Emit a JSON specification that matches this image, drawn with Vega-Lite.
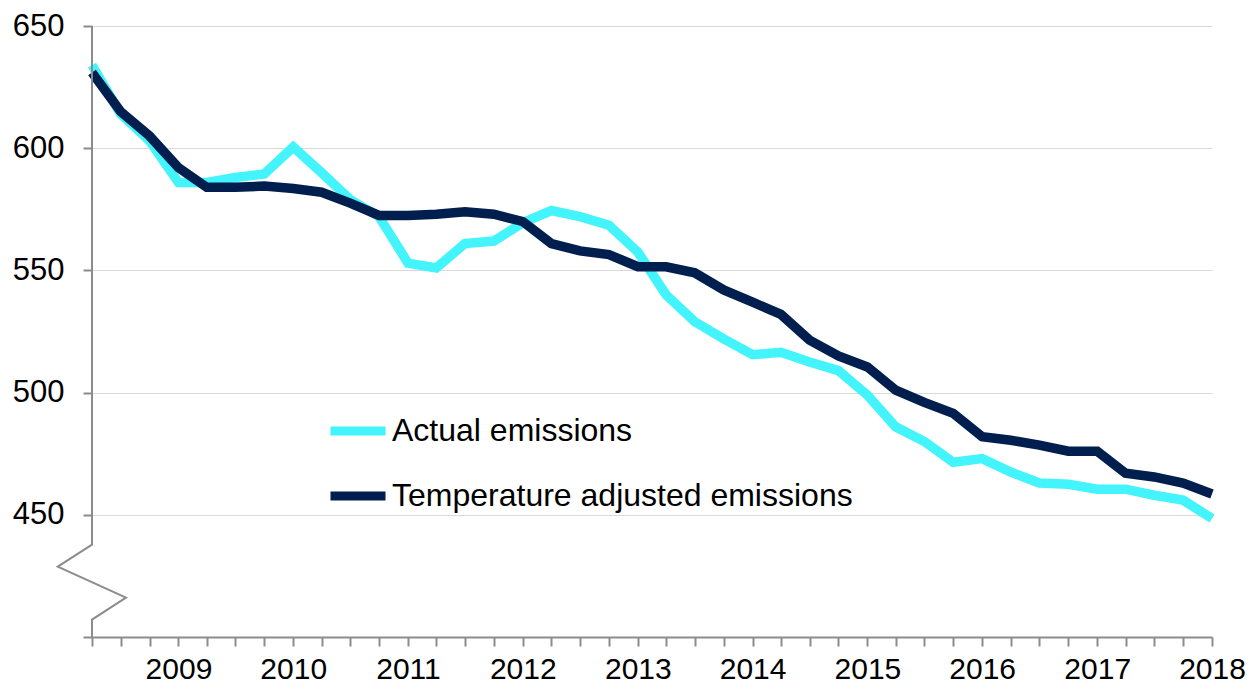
{
  "$schema": "https://vega.github.io/schema/vega-lite/v6.json",
  "width": 1120,
  "height": 611,
  "autosize": {"type": "none"},
  "padding": {"left": 92, "top": 26, "right": 47, "bottom": 51},
  "background": "white",
  "config": {
    "view": {"stroke": null},
    "font": "Liberation Sans",
    "axis": {"labelFont": "Liberation Sans", "labelColor": "#000000", "labelFontSize": 30, "domainColor": "#8c8c8c", "tickColor": "#8c8c8c", "domainWidth": 2, "tickWidth": 2, "tickSize": 9, "title": null},
    "legend": {"labelFont": "Liberation Sans"}
  },
  "datasets": {
    "emissions": [
      {"quarter": "2008-04-01", "Actual emissions": 634, "Temperature adjusted emissions": 631},
      {"quarter": "2008-07-01", "Actual emissions": 614, "Temperature adjusted emissions": 615},
      {"quarter": "2008-10-01", "Actual emissions": 603, "Temperature adjusted emissions": 605},
      {"quarter": "2009-01-01", "Actual emissions": 586, "Temperature adjusted emissions": 592},
      {"quarter": "2009-04-01", "Actual emissions": 586, "Temperature adjusted emissions": 584},
      {"quarter": "2009-07-01", "Actual emissions": 588, "Temperature adjusted emissions": 584},
      {"quarter": "2009-10-01", "Actual emissions": 589.5, "Temperature adjusted emissions": 584.5},
      {"quarter": "2010-01-01", "Actual emissions": 600.5, "Temperature adjusted emissions": 583.5},
      {"quarter": "2010-04-01", "Actual emissions": 590, "Temperature adjusted emissions": 582},
      {"quarter": "2010-07-01", "Actual emissions": 579, "Temperature adjusted emissions": 577.5},
      {"quarter": "2010-10-01", "Actual emissions": 572, "Temperature adjusted emissions": 572.5},
      {"quarter": "2011-01-01", "Actual emissions": 553, "Temperature adjusted emissions": 572.5},
      {"quarter": "2011-04-01", "Actual emissions": 551, "Temperature adjusted emissions": 573},
      {"quarter": "2011-07-01", "Actual emissions": 561, "Temperature adjusted emissions": 574},
      {"quarter": "2011-10-01", "Actual emissions": 562, "Temperature adjusted emissions": 573},
      {"quarter": "2012-01-01", "Actual emissions": 569.5, "Temperature adjusted emissions": 570},
      {"quarter": "2012-04-01", "Actual emissions": 574.5, "Temperature adjusted emissions": 561},
      {"quarter": "2012-07-01", "Actual emissions": 572, "Temperature adjusted emissions": 558},
      {"quarter": "2012-10-01", "Actual emissions": 568.5, "Temperature adjusted emissions": 556.5},
      {"quarter": "2013-01-01", "Actual emissions": 557.5, "Temperature adjusted emissions": 551.5},
      {"quarter": "2013-04-01", "Actual emissions": 540, "Temperature adjusted emissions": 551.5},
      {"quarter": "2013-07-01", "Actual emissions": 529, "Temperature adjusted emissions": 549},
      {"quarter": "2013-10-01", "Actual emissions": 522, "Temperature adjusted emissions": 542},
      {"quarter": "2014-01-01", "Actual emissions": 515.5, "Temperature adjusted emissions": 537},
      {"quarter": "2014-04-01", "Actual emissions": 516.5, "Temperature adjusted emissions": 532},
      {"quarter": "2014-07-01", "Actual emissions": 512.5, "Temperature adjusted emissions": 521.5},
      {"quarter": "2014-10-01", "Actual emissions": 509, "Temperature adjusted emissions": 515},
      {"quarter": "2015-01-01", "Actual emissions": 499, "Temperature adjusted emissions": 510.5},
      {"quarter": "2015-04-01", "Actual emissions": 486, "Temperature adjusted emissions": 501},
      {"quarter": "2015-07-01", "Actual emissions": 480, "Temperature adjusted emissions": 496},
      {"quarter": "2015-10-01", "Actual emissions": 471.5, "Temperature adjusted emissions": 491.5},
      {"quarter": "2016-01-01", "Actual emissions": 473, "Temperature adjusted emissions": 482},
      {"quarter": "2016-04-01", "Actual emissions": 467.5, "Temperature adjusted emissions": 480.5},
      {"quarter": "2016-07-01", "Actual emissions": 463, "Temperature adjusted emissions": 478.5},
      {"quarter": "2016-10-01", "Actual emissions": 462.5, "Temperature adjusted emissions": 476},
      {"quarter": "2017-01-01", "Actual emissions": 460.5, "Temperature adjusted emissions": 476},
      {"quarter": "2017-04-01", "Actual emissions": 460.5, "Temperature adjusted emissions": 467},
      {"quarter": "2017-07-01", "Actual emissions": 458, "Temperature adjusted emissions": 465.5},
      {"quarter": "2017-10-01", "Actual emissions": 456, "Temperature adjusted emissions": 463},
      {"quarter": "2018-01-01", "Actual emissions": 448.5, "Temperature adjusted emissions": 458.5}
    ],
    "axisbreak": [
      {"step": 1, "quarter": "2008-04-01", "value": 650},
      {"step": 2, "quarter": "2008-04-01", "value": 437.8},
      {"step": 3, "quarter": "2007-12-14", "value": 428.8},
      {"step": 4, "quarter": "2008-07-18", "value": 416.1},
      {"step": 5, "quarter": "2008-04-01", "value": 407.1},
      {"step": 6, "quarter": "2008-04-01", "value": 400}
    ]
  },
  "layer": [
    {
      "data": {"name": "emissions"},
      "transform": [{"fold": ["Actual emissions", "Temperature adjusted emissions"], "as": ["series", "emissions"]}],
      "mark": {"type": "line", "strokeWidth": 9.5, "strokeJoin": "miter"},
      "encoding": {
        "x": {
          "field": "quarter", "type": "temporal",
          "scale": {"type": "utc", "domain": ["2008-04-01", "2018-01-01"], "nice": false},
          "axis": {
            "tickCount": {"interval": "month", "step": 3},
            "labelExpr": "utcmonth(datum.value) == 0 ? utcFormat(datum.value, '%Y') : ''",
            "labelFontSize": 30, "labelPadding": 8, "labelFlush": false, "labelOverlap": false, "grid": false
          }
        },
        "y": {
          "field": "emissions", "type": "quantitative",
          "scale": {"domain": [400, 650], "nice": false, "zero": false},
          "axis": {
            "values": [400, 450, 500, 550, 600, 650],
            "labelExpr": "datum.value == 400 ? '' : datum.label",
            "domain": false, "grid": true, "gridColor": "#d9d9d9", "gridWidth": 1.2,
            "labelFontSize": 31, "labelPadding": 19
          }
        },
        "color": {
          "field": "series", "type": "nominal",
          "scale": {"domain": ["Actual emissions", "Temperature adjusted emissions"], "range": ["#43f4fc", "#001f4e"]},
          "legend": {
            "title": null, "orient": "none", "legendX": 234, "legendY": 373,
            "symbolType": "stroke", "symbolSize": 3025, "symbolStrokeWidth": 9,
            "labelFontSize": 32, "labelColor": "#000000", "labelOffset": 2, "labelLimit": 0, "rowPadding": 15
          }
        }
      }
    },
    {
      "data": {"name": "axisbreak"},
      "mark": {"type": "line", "color": "#8c8c8c", "strokeWidth": 2, "clip": false},
      "encoding": {
        "x": {"field": "quarter", "type": "temporal"},
        "y": {"field": "value", "type": "quantitative"},
        "order": {"field": "step", "type": "quantitative"}
      }
    }
  ]
}
